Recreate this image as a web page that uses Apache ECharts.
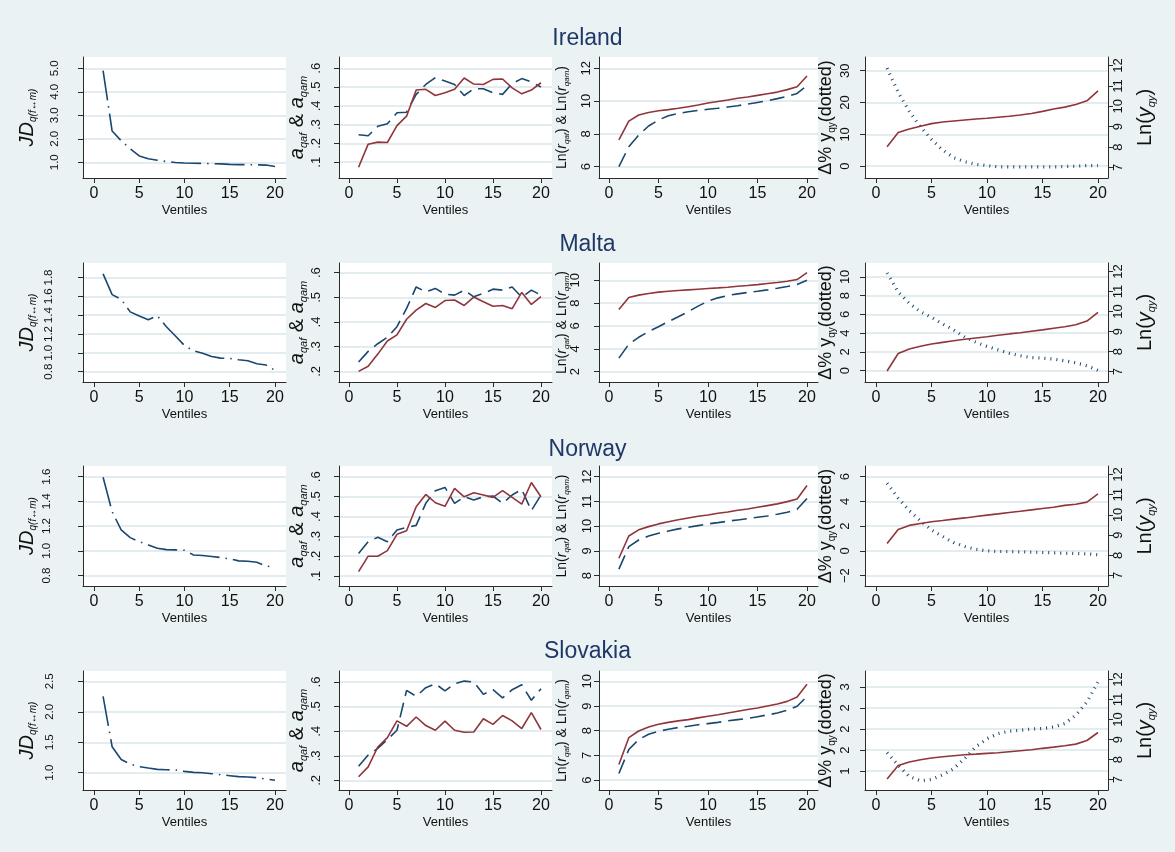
<!DOCTYPE html>
<html>
<head>
<meta charset="utf-8">
<title>Ventile profiles by country</title>
<script src="https://cdn.jsdelivr.net/npm/echarts@6/dist/echarts.min.js"></script>
<style>
  html, body { margin: 0; padding: 0; background: #eaf2f3; }
  #chart { width: 1175px; height: 852px; }
</style>
</head>
<body>
<div id="chart"></div>
<script>
// ventiles on the x axis
const ventiles = [1, 2, 3, 4, 5, 6, 7, 8, 9, 10, 11, 12, 13, 14, 15, 16, 17, 18, 19, 20];
const xTicks = [0, 5, 10, 15, 20];
const countries = ['Ireland', 'Malta', 'Norway', 'Slovakia'];

// Ireland
const ieJD = [4.9, 2.33, 1.92, 1.57, 1.27, 1.15, 1.085, 1.03, 0.99, 0.97, 0.96, 0.95, 0.94, 0.93, 0.91, 0.9, 0.9, 0.89, 0.88, 0.82];
const ieAf = [0.073, 0.196, 0.207, 0.205, 0.295, 0.345, 0.484, 0.488, 0.455, 0.47, 0.488, 0.548, 0.516, 0.514, 0.541, 0.543, 0.496, 0.464, 0.484, 0.523];
const ieAm = [0.246, 0.241, 0.291, 0.305, 0.363, 0.366, 0.461, 0.514, 0.55, 0.532, 0.514, 0.455, 0.491, 0.491, 0.47, 0.461, 0.518, 0.545, 0.527, 0.5];
const ieRf = [7.63, 8.78, 9.15, 9.31, 9.41, 9.48, 9.56, 9.66, 9.76, 9.88, 9.98, 10.07, 10.17, 10.25, 10.35, 10.45, 10.55, 10.7, 10.88, 11.53];
const ieRm = [6.0, 7.22, 7.93, 8.48, 8.85, 9.11, 9.25, 9.35, 9.43, 9.5, 9.56, 9.64, 9.72, 9.82, 9.92, 10.02, 10.15, 10.29, 10.47, 10.94];
const ieDy = [30.8, 23.2, 17.2, 12.4, 8.4, 5.1, 2.7, 1.4, 0.6, 0.2, -0.2, -0.2, -0.2, -0.2, -0.2, -0.2, -0.1, 0, 0.2, 0.2];
const ieLy = [8.01, 8.71, 8.89, 9.02, 9.15, 9.23, 9.28, 9.33, 9.38, 9.41, 9.46, 9.51, 9.57, 9.65, 9.75, 9.87, 9.96, 10.09, 10.27, 10.76];

// Malta
const mtJD = [1.839, 1.618, 1.568, 1.435, 1.39, 1.351, 1.393, 1.277, 1.179, 1.077, 1.021, 0.996, 0.96, 0.944, 0.94, 0.926, 0.916, 0.884, 0.87, 0.814];
const mtAf = [0.2, 0.221, 0.27, 0.323, 0.348, 0.411, 0.448, 0.475, 0.459, 0.487, 0.489, 0.467, 0.501, 0.482, 0.464, 0.467, 0.454, 0.52, 0.471, 0.503];
const mtAm = [0.238, 0.281, 0.312, 0.338, 0.381, 0.455, 0.542, 0.522, 0.536, 0.513, 0.509, 0.529, 0.502, 0.516, 0.533, 0.529, 0.542, 0.5, 0.529, 0.509];
const mtRf = [7.45, 8.49, 8.7, 8.84, 8.96, 9.04, 9.1, 9.16, 9.22, 9.28, 9.33, 9.39, 9.48, 9.54, 9.62, 9.71, 9.8, 9.91, 10.06, 10.67];
const mtRm = [3.19, 4.41, 5.01, 5.51, 5.94, 6.38, 6.81, 7.25, 7.74, 8.17, 8.46, 8.67, 8.81, 8.93, 9.04, 9.16, 9.3, 9.45, 9.62, 10.0];
const mtDy = [10.42, 8.41, 7.17, 6.29, 5.69, 4.98, 4.35, 3.57, 3.04, 2.58, 2.23, 1.87, 1.59, 1.41, 1.34, 1.24, 1.06, 0.85, 0.53, 0.04];
const mtLy = [7.03, 7.9, 8.13, 8.26, 8.38, 8.46, 8.54, 8.61, 8.68, 8.74, 8.81, 8.88, 8.94, 9.01, 9.08, 9.16, 9.24, 9.34, 9.52, 9.96];

// Norway
const noJD = [1.595, 1.317, 1.169, 1.107, 1.075, 1.048, 1.021, 1.01, 1.008, 1.005, 0.967, 0.962, 0.954, 0.946, 0.935, 0.919, 0.916, 0.908, 0.878, 0.865];
const noAf = [0.122, 0.2, 0.2, 0.228, 0.31, 0.328, 0.449, 0.511, 0.469, 0.451, 0.541, 0.499, 0.519, 0.508, 0.496, 0.53, 0.496, 0.462, 0.571, 0.499];
const noAm = [0.214, 0.273, 0.295, 0.273, 0.332, 0.345, 0.355, 0.466, 0.53, 0.546, 0.466, 0.499, 0.483, 0.499, 0.503, 0.466, 0.508, 0.536, 0.429, 0.508];
const noRf = [8.7, 9.6, 9.85, 9.98, 10.09, 10.18, 10.26, 10.33, 10.4, 10.45, 10.52, 10.57, 10.64, 10.69, 10.76, 10.83, 10.9, 10.99, 11.1, 11.64];
const noRm = [8.26, 9.17, 9.44, 9.6, 9.71, 9.8, 9.89, 9.95, 10.02, 10.09, 10.14, 10.2, 10.25, 10.3, 10.36, 10.41, 10.48, 10.56, 10.68, 11.12];
const noDy = [5.47, 4.26, 3.26, 2.43, 1.7, 1.16, 0.67, 0.35, 0.13, 0, -0.05, -0.05, -0.08, -0.1, -0.13, -0.16, -0.19, -0.22, -0.24, -0.32];
const noLy = [8.58, 9.28, 9.48, 9.57, 9.66, 9.72, 9.79, 9.85, 9.92, 9.99, 10.05, 10.12, 10.18, 10.25, 10.32, 10.38, 10.47, 10.53, 10.63, 11.04];

// Slovakia
const skJD = [2.255, 1.426, 1.218, 1.142, 1.098, 1.076, 1.055, 1.049, 1.044, 1.022, 1.005, 1.0, 0.984, 0.967, 0.951, 0.935, 0.929, 0.918, 0.896, 0.875];
const skAf = [0.215, 0.255, 0.336, 0.374, 0.442, 0.42, 0.458, 0.423, 0.404, 0.441, 0.404, 0.396, 0.397, 0.451, 0.428, 0.464, 0.442, 0.411, 0.476, 0.407];
const skAm = [0.258, 0.303, 0.33, 0.366, 0.404, 0.566, 0.542, 0.577, 0.593, 0.564, 0.593, 0.604, 0.6, 0.55, 0.569, 0.536, 0.569, 0.589, 0.526, 0.573];
const skRf = [6.63, 7.72, 7.99, 8.15, 8.26, 8.34, 8.4, 8.45, 8.52, 8.59, 8.65, 8.72, 8.79, 8.86, 8.92, 9.0, 9.08, 9.19, 9.37, 9.88];
const skRm = [6.27, 7.24, 7.64, 7.86, 7.98, 8.06, 8.13, 8.18, 8.24, 8.29, 8.34, 8.4, 8.45, 8.5, 8.57, 8.64, 8.72, 8.83, 8.99, 9.39];
const skDy = [1.44, 1.14, 0.87, 0.77, 0.8, 0.91, 1.06, 1.3, 1.58, 1.77, 1.89, 1.95, 1.97, 2.0, 2.01, 2.05, 2.13, 2.33, 2.64, 3.12];
const skLy = [7.03, 7.7, 7.88, 7.99, 8.08, 8.14, 8.19, 8.24, 8.27, 8.31, 8.34, 8.39, 8.44, 8.49, 8.56, 8.62, 8.69, 8.77, 8.95, 9.35];

// tick values
const ieJDTicks = [1, 2, 3, 4, 5];
const mtJDTicks = [0.8, 1.0, 1.2, 1.4, 1.6, 1.8];
const noJDTicks = [0.8, 1.0, 1.2, 1.4, 1.6];
const skJDTicks = [1.0, 1.5, 2.0, 2.5];
const ieATicks = [0.1, 0.2, 0.3, 0.4, 0.5, 0.6];
const mtATicks = [0.2, 0.3, 0.4, 0.5, 0.6];
const noATicks = [0.1, 0.2, 0.3, 0.4, 0.5, 0.6];
const skATicks = [0.2, 0.3, 0.4, 0.5, 0.6];
const ieRTicks = [6, 8, 10, 12];
const mtRTicks = [2, 4, 6, 8, 10];
const noRTicks = [8, 9, 10, 11, 12];
const skRTicks = [6, 7, 8, 9, 10];
const ieDyTicks = [0, 10, 20, 30];
const mtDyTicks = [0, 2, 4, 6, 8, 10];
const noDyTicks = [-2, 0, 2, 4, 6];
const skDyTicks = [1, 1.5, 2, 2.5, 3];
const skDyLabels = ['1', '2', '2', '2', '3'];
const lyTicks = [7, 8, 9, 10, 11, 12];

const FONT = '"Liberation Sans", Arial, sans-serif';
const NAVY = '#1a476f';
const MAROON = '#90353b';
const AXIS = '#2b2b2b';
const GRID = '#e3ecef';

const colX = [[83, 286], [339, 552], [599, 818], [865, 1108]];
const rowY = [[57, 178], [263, 382], [466, 586], [671, 790]];
const xRange = [[-1.22, 21.22], [-1.04, 21.15], [-1.01, 21.11], [-0.99, 20.9]];
const titleTop = [27, 233, 438, 640];

const fmtJD = v => v.toFixed(1);
const fmtA = v => v.toFixed(1).replace(/^0/, '');
const fmtInt = v => (v < 0 ? '\u2212' + Math.abs(v) : String(v));
const fmtSkDy = v => {
  const i = skDyTicks.findIndex(t => Math.abs(t - v) < 1e-6);
  return i >= 0 ? skDyLabels[i] : '';
};

const rows = [
  { jd: ieJD, af: ieAf, am: ieAm, rf: ieRf, rm: ieRm, dy: ieDy, ly: ieLy,
    jdT: ieJDTicks, aT: ieATicks, rT: ieRTicks, dyT: ieDyTicks, dyF: fmtInt,
    jdR: [0.33, 5.48], aR: [0.016, 0.66], rR: [5.31, 12.69], dyR: [-3.7, 34.3], m1: 22, m3: 6 },
  { jd: mtJD, af: mtAf, am: mtAm, rf: mtRf, rm: mtRm, dy: mtDy, ly: mtLy,
    jdT: mtJDTicks, aT: mtATicks, rT: mtRTicks, dyT: mtDyTicks, dyF: fmtInt,
    jdR: [0.69, 1.954], aR: [0.157, 0.639], rR: [1.1, 11.51], dyR: [-1.2, 11.48], m1: 28, m3: 17 },
  { jd: noJD, af: noAf, am: noAm, rf: noRf, rm: noRm, dy: noDy, ly: noLy,
    jdT: noJDTicks, aT: noATicks, rT: noRTicks, dyT: noDyTicks, dyF: fmtInt,
    jdR: [0.716, 1.686], aR: [0.05, 0.654], rR: [7.58, 12.43], dyR: [-2.84, 6.86], m1: 30, m3: 5 },
  { jd: skJD, af: skAf, am: skAm, rf: skRf, rm: skRm, dy: skDy, ly: skLy,
    jdT: skJDTicks, aT: skATicks, rT: skRTicks, dyT: skDyTicks, dyF: fmtSkDy,
    jdR: [0.716, 2.67], aR: [0.161, 0.645], rR: [5.6, 10.42], dyR: [0.55, 3.38], m1: 27, m3: 5 }
];

// axis titles (rich text, rotated with the axis name)
const names = [
  { text: '{b|JD}{s|q(f\u2194m)}',
    rich: { b: { fontSize: 20, fontStyle: 'italic', lineHeight: 22 },
            s: { fontSize: 10, fontStyle: 'italic', lineHeight: 6, verticalAlign: 'bottom' } } },
  { text: '{b|a}{s|qaf}{n| & }{b|a}{s|qam}',
    rich: { b: { fontSize: 20, fontStyle: 'italic', lineHeight: 24 },
            n: { fontSize: 20, lineHeight: 24 },
            s: { fontSize: 11, fontStyle: 'italic', lineHeight: 6, verticalAlign: 'bottom' } } },
  { text: '{n|Ln(}{i|r}{s|qaf}{n|) & Ln(}{i|r}{s|qam}{n|)}',
    rich: { n: { fontSize: 14, lineHeight: 17 },
            i: { fontSize: 14, fontStyle: 'italic', lineHeight: 17 },
            s: { fontSize: 8, fontStyle: 'italic', lineHeight: 4, verticalAlign: 'bottom' } } },
  { text: '{n|\u0394% y}{s|qy}{n|(dotted)}',
    rich: { n: { fontSize: 18, lineHeight: 22 },
            s: { fontSize: 10, lineHeight: 5, verticalAlign: 'bottom' } } }
];
const lyName = { text: '{n|Ln(}{i|y}{s|qy}{n|)}',
  rich: { n: { fontSize: 20, lineHeight: 24 },
          i: { fontSize: 20, fontStyle: 'italic', lineHeight: 24 },
          s: { fontSize: 11, fontStyle: 'italic', lineHeight: 6, verticalAlign: 'bottom' } } };

function makeY(gi, range, ticks, fmt, margin, name, nameGap, pos, labelSize) {
  return {
    type: 'value', gridIndex: gi, position: pos, min: range[0], max: range[1],
    axisLine: { show: true, onZero: false, lineStyle: { color: AXIS, width: 1 } },
    axisTick: { show: true, length: 5, customValues: ticks, lineStyle: { color: AXIS } },
    axisLabel: { customValues: ticks, rotate: 90, fontSize: labelSize || 13, color: '#111', fontFamily: FONT,
      margin: margin, formatter: fmt },
    splitLine: { show: pos === 'left', lineStyle: { color: GRID, width: 2 } },
    name: name.text, nameLocation: 'middle', nameRotate: 90, nameGap: nameGap, nameMoveOverlap: false,
    nameTextStyle: { color: '#111', fontFamily: FONT, rich: name.rich }
  };
}

function makeX(gi, c) {
  return {
    type: 'value', gridIndex: gi, min: xRange[c][0], max: xRange[c][1],
    axisLine: { show: true, onZero: false, lineStyle: { color: AXIS, width: 1 } },
    axisTick: { show: true, length: 5, customValues: xTicks, lineStyle: { color: AXIS } },
    axisLabel: { customValues: xTicks, fontSize: 16, color: '#111', fontFamily: FONT, margin: 8 },
    splitLine: { show: false },
    name: 'Ventiles', nameLocation: 'middle', nameGap: 26, nameMoveOverlap: false,
    nameTextStyle: { fontSize: 13, color: '#111', fontFamily: FONT }
  };
}

function line(xi, yi, arr, color, width, type) {
  return {
    type: 'line', xAxisIndex: xi, yAxisIndex: yi, symbol: 'none', silent: true,
    data: ventiles.map((v, i) => [v, arr[i]]),
    lineStyle: { color: color, width: width, type: type, cap: 'butt' }
  };
}

const grids = [], xAxes = [], yAxes = [], series = [];
rows.forEach((row, r) => {
  for (let c = 0; c < 4; c++) {
    const gi = grids.length;
    grids.push({
      left: colX[c][0], top: rowY[r][0],
      width: colX[c][1] - colX[c][0], height: rowY[r][1] - rowY[r][0],
      show: true, backgroundColor: '#ffffff', borderWidth: 0, outerBoundsMode: 'none'
    });
    xAxes.push(makeX(gi, c));
    if (c === 0) {
      const yi = yAxes.length;
      yAxes.push(makeY(gi, row.jdR, row.jdT, fmtJD, row.m1, names[0], 45, 'left', 11.5));
      series.push(line(gi, yi, row.jd, NAVY, 1.6, [30, 6, 1.5, 6]));
    } else if (c === 1) {
      const yi = yAxes.length;
      yAxes.push(makeY(gi, row.aR, row.aT, fmtA, 16, names[1], 30, 'left'));
      series.push(line(gi, yi, row.am, NAVY, 1.6, [15, 7]));
      series.push(line(gi, yi, row.af, MAROON, 1.6, 'solid'));
    } else if (c === 2) {
      const yi = yAxes.length;
      yAxes.push(makeY(gi, row.rR, row.rT, fmtInt, row.m3, names[2], 28, 'left'));
      series.push(line(gi, yi, row.rm, NAVY, 1.6, [15, 7]));
      series.push(line(gi, yi, row.rf, MAROON, 1.6, 'solid'));
    } else {
      const yl = yAxes.length;
      yAxes.push(makeY(gi, row.dyR, row.dyT, row.dyF, 13, names[3], 28, 'left'));
      const yr = yAxes.length;
      yAxes.push(makeY(gi, [6.48, 12.42], lyTicks, fmtInt, 4, lyName, 25, 'right'));
      series.push(line(gi, yl, row.dy, NAVY, 3.2, [1, 5]));
      series.push(line(gi, yr, row.ly, MAROON, 1.6, 'solid'));
    }
  }
});

const chart = echarts.init(document.getElementById('chart'), null, { renderer: 'canvas' });
chart.setOption({
  backgroundColor: '#eaf2f3',
  animation: false,
  textStyle: { fontFamily: FONT },
  title: countries.map((c, i) => ({
    text: c, left: 'center', top: titleTop[i], padding: 0,
    textStyle: { fontSize: 23, fontWeight: 'normal', color: '#1f3868', fontFamily: FONT }
  })),
  grid: grids,
  xAxis: xAxes,
  yAxis: yAxes,
  series: series
});
window.addEventListener('resize', () => chart.resize());
</script>
</body>
</html>
